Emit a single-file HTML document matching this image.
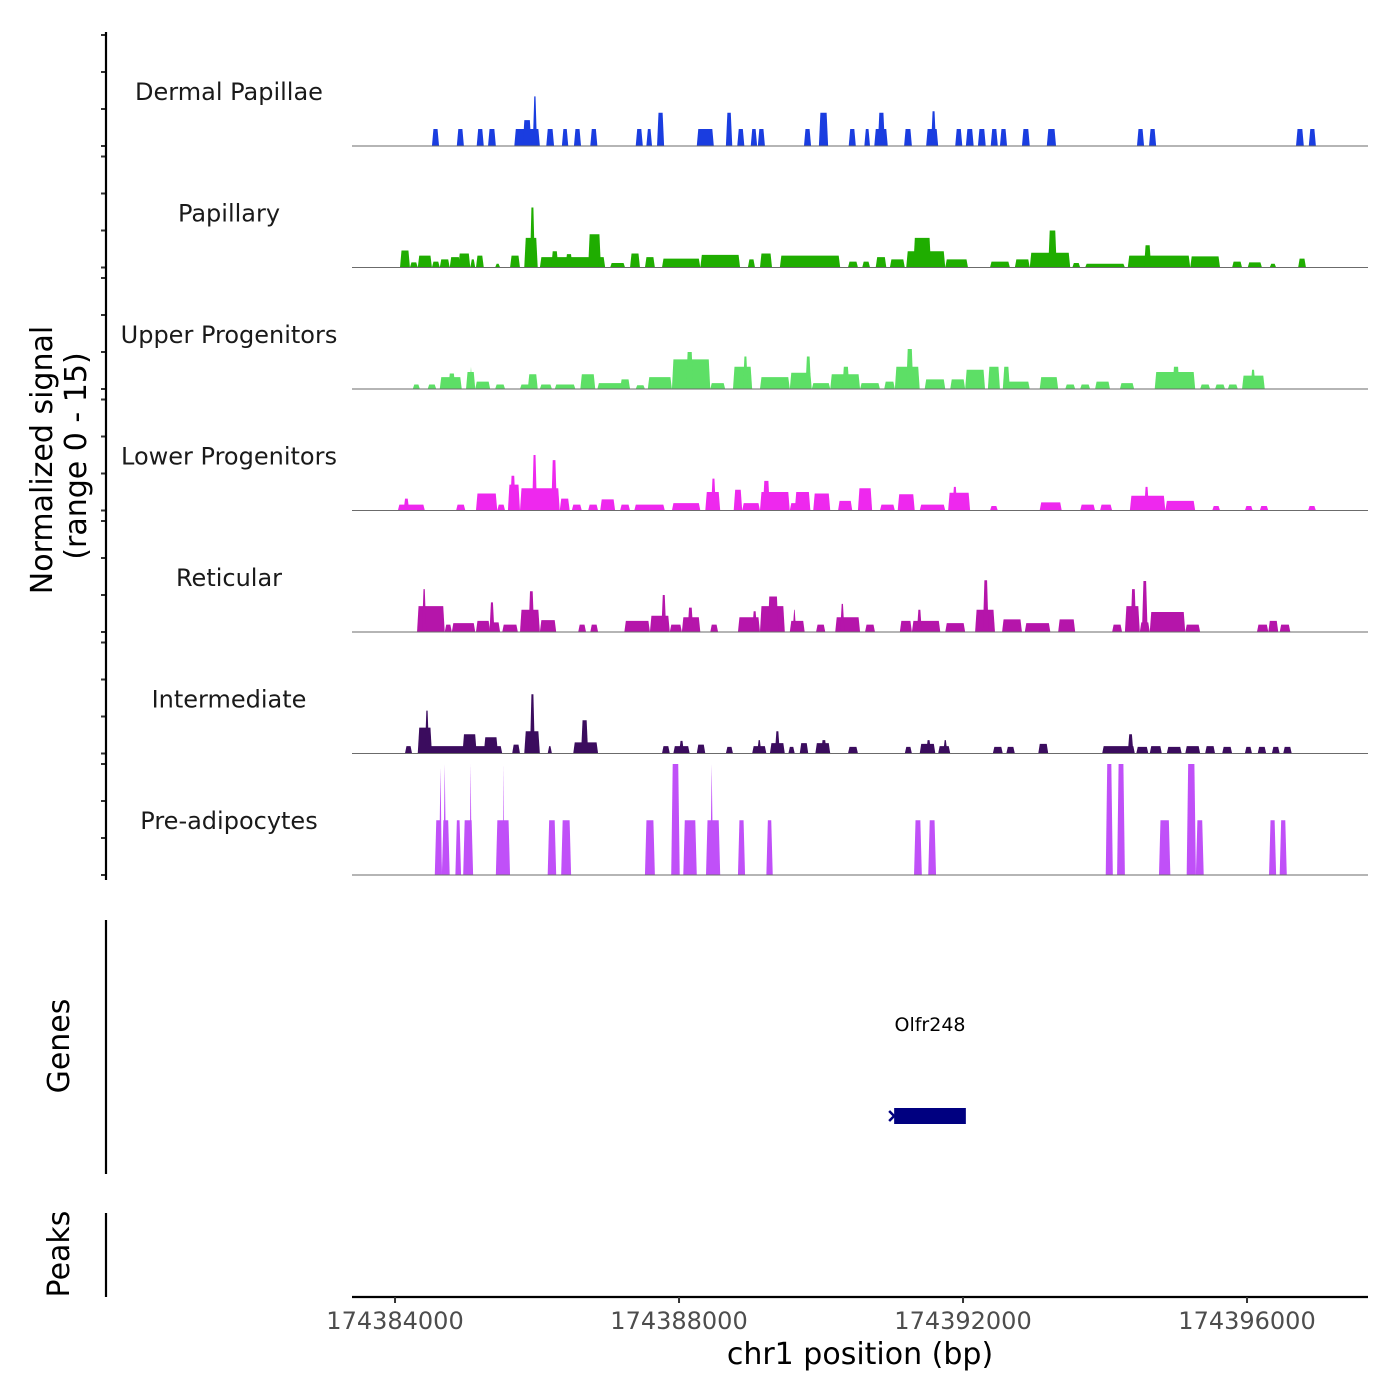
<!DOCTYPE html>
<html><head><meta charset="utf-8"><style>
html,body{margin:0;padding:0;background:#fff;}
svg{display:block;font-family:"DejaVu Sans","Liberation Sans",sans-serif;}
</style></head><body>
<svg id="chart" width="1400" height="1400" viewBox="0 0 1400 1400">
<g id="tracks"></g>
<g id="axes"></g>
</svg>
<script>
// Data: genomic region (kb offsets from 174384000), tracks of peaks [startKb, endKb, value]
const regionStartKb = -0.606;
const regionEndKb = 13.704;
const xTickValues = [174384000, 174388000, 174392000, 174396000];
const xTickLabels = ["174384000", "174388000", "174392000", "174396000"];
const trackNames = ["Dermal Papillae","Papillary","Upper Progenitors","Lower Progenitors","Reticular","Intermediate","Pre-adipocytes"];
const trackColors = ["#1a3de0","#1fad00","#5ddf66","#ee28ee","#b515aa","#3b0c5e","#c050f8"];
const yRangeMax = 15;
const yTickValues = [0,5,10,15];

const dermalPapillae = [[0.52,0.62,2.3],[0.87,0.97,2.3],[1.15,1.25,2.3],[1.31,1.42,2.3],[1.68,2.04,2.3],[1.80,1.92,3.5],[1.94,2.0,6.7],[2.13,2.24,2.3],[2.35,2.44,2.3],[2.52,2.62,2.3],[2.75,2.85,2.3],[3.39,3.49,2.3],[3.54,3.62,2.3],[3.69,3.79,4.5],[4.25,4.49,2.3],[4.66,4.75,4.5],[4.82,4.92,2.3],[5.01,5.10,2.3],[5.11,5.21,2.3],[5.76,5.86,2.3],[5.97,6.10,4.5],[6.39,6.49,2.3],[6.61,6.69,2.3],[6.75,6.94,2.3],[6.80,6.90,4.5],[7.17,7.28,2.3],[7.48,7.65,2.3],[7.55,7.62,4.7],[7.89,7.99,2.3],[8.04,8.15,2.3],[8.21,8.32,2.3],[8.39,8.49,2.3],[8.52,8.62,2.3],[8.83,8.94,2.3],[9.18,9.31,2.3],[10.45,10.55,2.3],[10.62,10.72,2.3],[12.69,12.80,2.3],[12.87,12.97,2.3]];
const papillary = [[0.07,0.21,2.3],[0.21,0.32,0.7],[0.32,0.52,1.6],[0.52,0.63,0.8],[0.63,0.77,1.1],[0.77,0.92,1.4],[0.89,1.06,1.9],[1.06,1.13,1.1],[1.14,1.25,1.6],[1.41,1.48,0.5],[1.62,1.76,1.6],[1.82,2.01,4.0],[1.9,1.97,8.1],[2.04,2.75,1.4],[2.2,2.3,2.2],[2.4,2.5,1.8],[2.72,2.9,4.5],[2.86,2.96,1.4],[3.03,3.24,0.6],[3.31,3.45,1.9],[3.52,3.66,1.4],[3.76,4.30,1.2],[4.30,4.86,1.7],[4.97,5.07,1.1],[5.14,5.31,1.9],[5.42,6.27,1.6],[6.38,6.52,0.8],[6.58,6.69,0.8],[6.77,6.92,1.4],[6.97,7.18,1.1],[7.20,7.75,2.2],[7.30,7.55,4.0],[7.75,8.07,1.1],[8.38,8.66,0.8],[8.73,8.94,1.1],[8.94,9.51,2.0],[9.2,9.32,5.0],[9.54,9.65,0.6],[9.72,10.28,0.5],[10.32,11.20,1.6],[10.55,10.65,3.0],[11.20,11.62,1.5],[11.79,11.93,0.8],[12.01,12.21,0.7],[12.32,12.41,0.5],[12.72,12.83,1.2]];
const upperProgenitors = [[0.25,0.35,0.6],[0.46,0.58,0.6],[0.63,0.94,1.6],[0.75,0.85,2.1],[1.0,1.13,2.3],[1.05,1.09,3.0],[1.13,1.34,1.0],[1.41,1.55,0.6],[1.76,1.90,0.6],[1.87,2.01,2.0],[2.04,2.21,0.6],[2.25,2.54,0.6],[2.61,2.82,2.0],[2.85,3.31,0.8],[3.17,3.31,1.3],[3.39,3.52,0.5],[3.56,3.90,1.6],[3.90,4.44,4.0],[4.1,4.2,5.0],[4.44,4.65,0.8],[4.76,5.03,3.0],[4.9,4.97,4.4],[5.14,5.56,1.6],[5.56,5.87,2.2],[5.78,5.86,4.4],[5.87,6.13,0.8],[6.13,6.55,2.0],[6.3,6.4,3.0],[6.55,6.83,0.8],[6.89,7.04,1.0],[7.04,7.39,3.0],[7.2,7.3,5.4],[7.46,7.75,1.3],[7.82,8.03,1.3],[8.03,8.31,2.6],[8.35,8.52,3.0],[8.56,8.94,1.0],[8.56,8.66,3.0],[9.08,9.34,1.6],[9.44,9.58,0.6],[9.65,9.79,0.6],[9.86,10.07,1.0],[10.21,10.41,0.8],[10.70,11.27,2.3],[10.95,11.05,3.0],[11.34,11.48,0.6],[11.55,11.69,0.6],[11.73,11.87,0.6],[11.93,12.25,1.8],[12.05,12.12,2.6]];
const lowerProgenitors = [[0.04,0.42,0.8],[0.12,0.2,1.6],[0.86,0.99,0.8],[1.14,1.44,2.3],[1.44,1.55,0.8],[1.59,1.76,3.5],[1.62,1.70,4.7],[1.76,2.32,3.0],[1.93,2.0,7.5],[2.2,2.28,6.8],[2.32,2.46,1.6],[2.49,2.63,0.8],[2.72,2.86,0.8],[2.89,3.10,1.5],[3.17,3.31,0.8],[3.37,3.80,0.8],[3.90,4.30,1.0],[4.37,4.58,2.5],[4.45,4.52,4.3],[4.77,4.89,2.8],[4.89,5.14,1.0],[5.14,5.56,2.5],[5.18,5.28,4.0],[5.56,5.85,1.0],[5.63,5.85,2.5],[5.89,6.13,2.3],[6.24,6.44,1.3],[6.52,6.72,3.0],[6.83,7.04,0.8],[7.08,7.32,2.2],[7.39,7.75,0.8],[7.79,8.10,2.4],[7.85,7.92,3.2],[8.38,8.49,0.6],[9.08,9.39,1.1],[9.65,9.86,0.8],[9.93,10.10,0.8],[10.35,10.85,2.0],[10.55,10.62,3.2],[10.85,11.27,1.3],[11.51,11.62,0.6],[11.97,12.08,0.6],[12.18,12.30,0.6],[12.86,12.97,0.6]];
const reticular = [[0.31,0.70,3.5],[0.38,0.44,5.8],[0.70,0.80,1.0],[0.80,1.13,1.2],[1.14,1.34,1.5],[1.33,1.40,4.0],[1.34,1.48,1.3],[1.51,1.73,1.0],[1.76,2.04,3.0],[1.88,1.96,5.5],[2.04,2.27,1.6],[2.58,2.69,1.0],[2.75,2.86,1.0],[3.23,3.59,1.5],[3.59,3.87,2.2],[3.75,3.82,5.0],[3.87,4.04,1.0],[4.04,4.30,2.0],[4.12,4.2,3.3],[4.44,4.55,1.0],[4.83,5.14,2.0],[5.03,5.1,2.8],[5.14,5.49,3.5],[5.25,5.4,4.8],[5.56,5.77,1.5],[5.6,5.65,3.0],[5.93,6.06,1.0],[6.20,6.55,2.0],[6.27,6.33,3.8],[6.62,6.76,1.0],[7.11,7.28,1.5],[7.28,7.68,1.5],[7.35,7.42,3.0],[7.75,8.03,1.2],[8.17,8.45,3.0],[8.28,8.36,7.0],[8.55,8.83,1.7],[8.87,9.23,1.2],[9.34,9.58,1.7],[10.10,10.24,1.0],[10.28,10.49,3.5],[10.36,10.44,5.8],[10.49,10.63,1.3],[10.52,10.60,6.9],[10.63,11.13,2.7],[11.13,11.34,1.0],[12.14,12.30,1.0],[12.30,12.44,1.5],[12.46,12.61,1.0]];
const intermediate = [[0.14,0.24,1.0],[0.32,1.06,1.0],[0.32,0.52,3.5],[0.42,0.48,5.8],[0.95,1.15,2.6],[1.25,1.45,2.2],[1.06,1.51,1.0],[1.65,1.76,1.2],[1.82,2.04,3.0],[1.90,1.97,8.0],[2.15,2.21,1.0],[2.51,2.86,1.5],[2.62,2.72,4.5],[3.76,3.87,1.0],[3.92,4.15,1.0],[4.0,4.07,1.7],[4.25,4.37,1.2],[4.66,4.76,0.9],[5.03,5.23,1.0],[5.1,5.16,1.8],[5.28,5.49,1.4],[5.35,5.42,3.0],[5.54,5.63,0.9],[5.70,5.82,1.4],[5.92,6.13,1.4],[6.0,6.08,1.8],[6.38,6.52,0.9],[7.18,7.28,0.9],[7.39,7.61,1.3],[7.48,7.55,1.8],[7.65,7.82,1.0],[7.72,7.78,1.8],[8.42,8.56,0.9],[8.61,8.73,0.9],[9.06,9.20,1.3],[9.96,10.42,1.0],[10.32,10.4,2.6],[10.44,10.61,0.9],[10.63,10.80,1.0],[10.87,11.08,0.9],[11.13,11.34,1.0],[11.41,11.55,1.0],[11.65,11.79,0.9],[11.97,12.07,0.9],[12.15,12.27,0.9],[12.35,12.46,0.9],[12.51,12.63,0.9]];
const preAdipocytes = [[0.56,0.66,7.4],[0.62,0.66,14.5],[0.68,0.72,15],[0.66,0.77,7.4],[0.85,0.93,7.4],[0.96,1.10,7.4],[1.05,1.08,15],[1.42,1.62,7.4],[1.52,1.54,15],[2.15,2.27,7.4],[2.34,2.48,7.4],[3.52,3.66,7.4],[3.89,4.01,15],[4.06,4.25,7.4],[4.38,4.58,7.4],[4.44,4.48,15],[4.83,4.93,7.4],[5.23,5.32,7.4],[7.31,7.42,7.4],[7.51,7.62,7.4],[10.01,10.11,15],[10.17,10.28,15],[10.76,10.92,7.4],[11.15,11.28,15],[11.28,11.39,7.4],[12.31,12.41,7.4],[12.46,12.56,7.4]];
const trackData = [dermalPapillae, papillary, upperProgenitors, lowerProgenitors, reticular, intermediate, preAdipocytes];
const geneName = "Olfr248";
const geneStartKb = 7.03;
const geneEndKb = 8.04;

const NS = "http://www.w3.org/2000/svg";
const plotL = 352, plotR = 1368;
const trackBase0 = 146, trackStep = 121.5, unitPx = 7.4;
function xScale(kb){ return plotL + (kb - regionStartKb) / (regionEndKb - regionStartKb) * (plotR - plotL); }
function yScale(i, v){ return trackBase0 + i*trackStep - Math.min(v, yRangeMax)*unitPx; }
function mk(tag, attrs, parent){ const e=document.createElementNS(NS,tag); for(const k in attrs) e.setAttribute(k,attrs[k]); parent.appendChild(e); return e; }

const tracksG = document.getElementById('tracks');
const axesG = document.getElementById('axes');

trackData.forEach((peaks, i) => {
  const g = mk('g', {}, tracksG);
  
  
  const base = yScale(i, 0);
  peaks.forEach(p => {
    const x0 = xScale(p[0]), x1 = xScale(p[1]), yt = yScale(i, p[2]);
    const d = Math.min(1.5, (x1-x0)/2);
    const poly = mk('polygon', {points: `${x0},${base} ${x0+d},${yt} ${x1-d},${yt} ${x1},${base}`, fill: trackColors[i]}, g);
    
    
  });
  const bl = mk('line', {x1: plotL, x2: plotR, y1: base, y2: base, stroke: '#6b6b6b', 'stroke-width': 1}, g);
  
  
  const lbl = mk('text', {x: 229, y: base - 46, 'text-anchor': 'middle', 'font-size': 24, fill: '#1a1a1a'}, g);
  lbl.textContent = trackNames[i];
  
  
  yTickValues.forEach(v => {
    const y = yScale(i, v);
    const t = mk('line', {x1: 101, x2: 106, y1: y, y2: y, stroke: '#333', 'stroke-width': 2}, axesG);
    
    
  });
});

[[32,880,'signal-axis-line'],[920,1174,'genes-axis-line'],[1213,1297,'peaks-axis-line']].forEach(a => {
  const l = mk('line', {x1:106, x2:106, y1:a[0], y2:a[1], stroke:'#000', 'stroke-width':2.2}, axesG);
  
  
});

const yt1 = mk('text', {x:0, y:0, transform:'translate(52,460) rotate(-90)', 'text-anchor':'middle', 'font-size':30, fill:'#000'}, axesG);
yt1.textContent = 'Normalized signal';


const yt2 = mk('text', {x:0, y:0, transform:'translate(86,456) rotate(-90)', 'text-anchor':'middle', 'font-size':30, fill:'#000'}, axesG);
yt2.textContent = '(range 0 - 15)';


const gt = mk('text', {x:0, y:0, transform:'translate(69,1046) rotate(-90)', 'text-anchor':'middle', 'font-size':30, fill:'#000'}, axesG);
gt.textContent = 'Genes';


const pt = mk('text', {x:0, y:0, transform:'translate(69,1254) rotate(-90)', 'text-anchor':'middle', 'font-size':30, fill:'#000'}, axesG);
pt.textContent = 'Peaks';



const gx0 = xScale(geneStartKb), gx1 = xScale(geneEndKb);
const gRect = mk('rect', {x: gx0, y: 1108, width: gx1-gx0, height: 16, fill: '#000080'}, axesG);


const gArr = mk('path', {d:`M${gx0-5},1111 L${gx0},1116 L${gx0-5},1121`, stroke:'#000080', 'stroke-width':2.5, fill:'none'}, axesG);


const gLbl = mk('text', {x:(gx0+gx1)/2, y:1031, 'text-anchor':'middle', 'font-size':19, fill:'#000'}, axesG);
gLbl.textContent = geneName;



const xa = mk('line', {x1:plotL, x2:plotR, y1:1297, y2:1297, stroke:'#000', 'stroke-width':2.2}, axesG);


xTickValues.forEach((v, k) => {
  const x = xScale((v - 174384000)/1000);
  const t = mk('line', {x1:x, x2:x, y1:1297, y2:1303, stroke:'#333', 'stroke-width':2}, axesG);
  
  
  const tl = mk('text', {x:x, y:1329, 'text-anchor':'middle', 'font-size':24, fill:'#4d4d4d'}, axesG);
  tl.textContent = xTickLabels[k];
  
  
});
const xt = mk('text', {x:860, y:1364, 'text-anchor':'middle', 'font-size':30, fill:'#000'}, axesG);
xt.textContent = 'chr1 position (bp)';


</script>
</body></html>
